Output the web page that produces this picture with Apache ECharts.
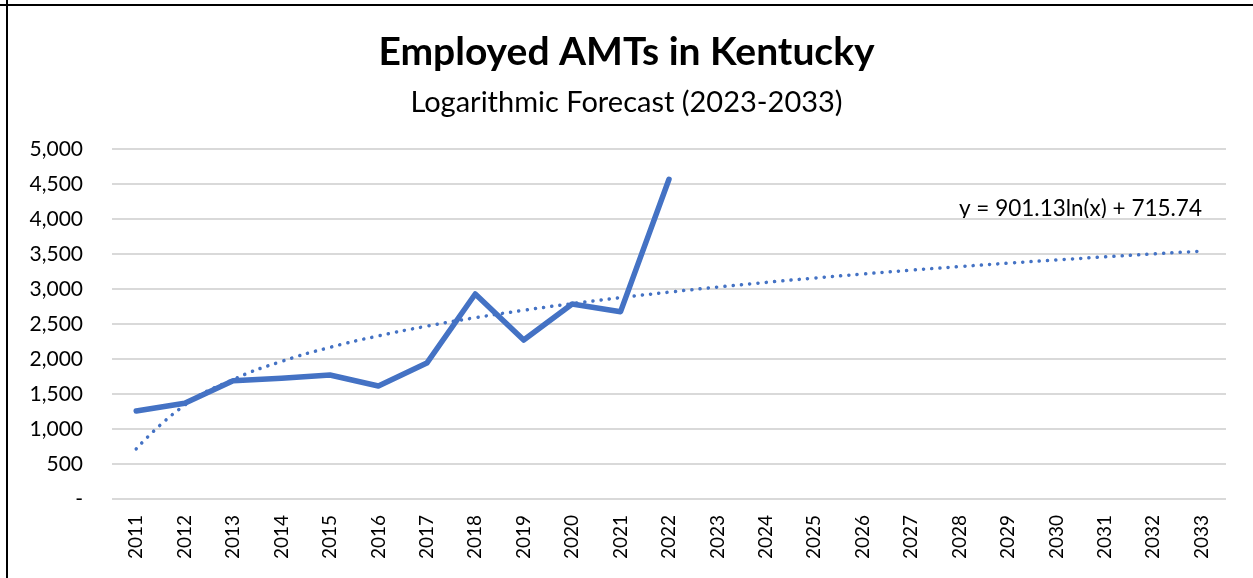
<!DOCTYPE html>
<html>
<head>
<meta charset="utf-8">
<script src="https://cdn.jsdelivr.net/npm/echarts@6/dist/echarts.min.js"></script>
<style>
html,body{margin:0;padding:0;background:#fff;}
#chart{width:1253px;height:578px;}
</style>
</head>
<body>
<div id="chart"></div>
<script>
var years = ['2011','2012','2013','2014','2015','2016','2017','2018','2019','2020','2021','2022','2023','2024','2025','2026','2027','2028','2029','2030','2031','2032','2033'];
var employed = [1257, 1367, 1690, 1724, 1771, 1614, 1942, 2929, 2271, 2786, 2676, 4567];
var trend = [716, 1340, 1706, 1965, 2166, 2330, 2469, 2590, 2696, 2791, 2877, 2955, 3027, 3094, 3156, 3214, 3269, 3320, 3369, 3415, 3459, 3501, 3541];
var yTicks = [0, 500, 1000, 1500, 2000, 2500, 3000, 3500, 4000, 4500, 5000];
var titleText = 'Employed AMTs in Kentucky';
var subtitleText = 'Logarithmic Forecast (2023-2033)';
var equationText = 'y = 901.13ln(x) + 715.74';

var FONT = 'Lato, "Open Sans", sans-serif';
var chart = echarts.init(document.getElementById('chart'));
chart.setOption({
  animation: false,
  backgroundColor: '#fff',
  title: {
    text: titleText,
    subtext: subtitleText,
    left: 'center',
    top: 28,
    itemGap: 16,
    textStyle: {fontFamily: FONT, fontWeight: 'bold', fontSize: 39, color: '#000'},
    subtextStyle: {fontFamily: FONT, fontSize: 29, color: '#000'}
  },
  grid: {left: 112, right: 27, top: 149, bottom: 79, containLabel: false},
  xAxis: {
    type: 'category',
    data: years,
    boundaryGap: true,
    axisLine: {show: false},
    axisTick: {show: false},
    axisLabel: {rotate: 90, fontFamily: FONT, fontSize: 19, color: '#000', margin: 16}
  },
  yAxis: {
    type: 'value',
    min: yTicks[0],
    max: yTicks[yTicks.length - 1],
    interval: yTicks[1] - yTicks[0],
    axisLine: {show: false},
    axisTick: {show: false},
    splitLine: {lineStyle: {color: '#d9d9d9', width: 2}},
    axisLabel: {
      fontFamily: FONT, fontSize: 21, color: '#000', margin: 29,
      formatter: function (v) { return v === 0 ? '-' : v.toLocaleString('en-US'); }
    }
  },
  graphic: [
    {type: 'line', shape: {x1: 7, y1: 0, x2: 7, y2: 578}, style: {stroke: '#000', lineWidth: 2}},
    {type: 'line', shape: {x1: 0, y1: 5, x2: 1253, y2: 5}, style: {stroke: '#000', lineWidth: 2}},
    {type: 'text', left: 959, top: 197, style: {text: equationText, fontFamily: FONT, fontSize: 22.5, fill: '#000'}}
  ],
  series: [
    {
      name: 'Employed AMTs',
      type: 'line',
      data: employed,
      symbol: 'none',
      lineStyle: {color: '#4472C4', width: 5.5, cap: 'round', join: 'round'},
      z: 3
    },
    {
      name: 'Log. trend',
      type: 'line',
      data: trend,
      smooth: true,
      symbol: 'none',
      lineStyle: {color: '#4472C4', width: 3.5, type: [0.1, 8.2], cap: 'round'},
      z: 2
    }
  ]
});
</script>
</body>
</html>
